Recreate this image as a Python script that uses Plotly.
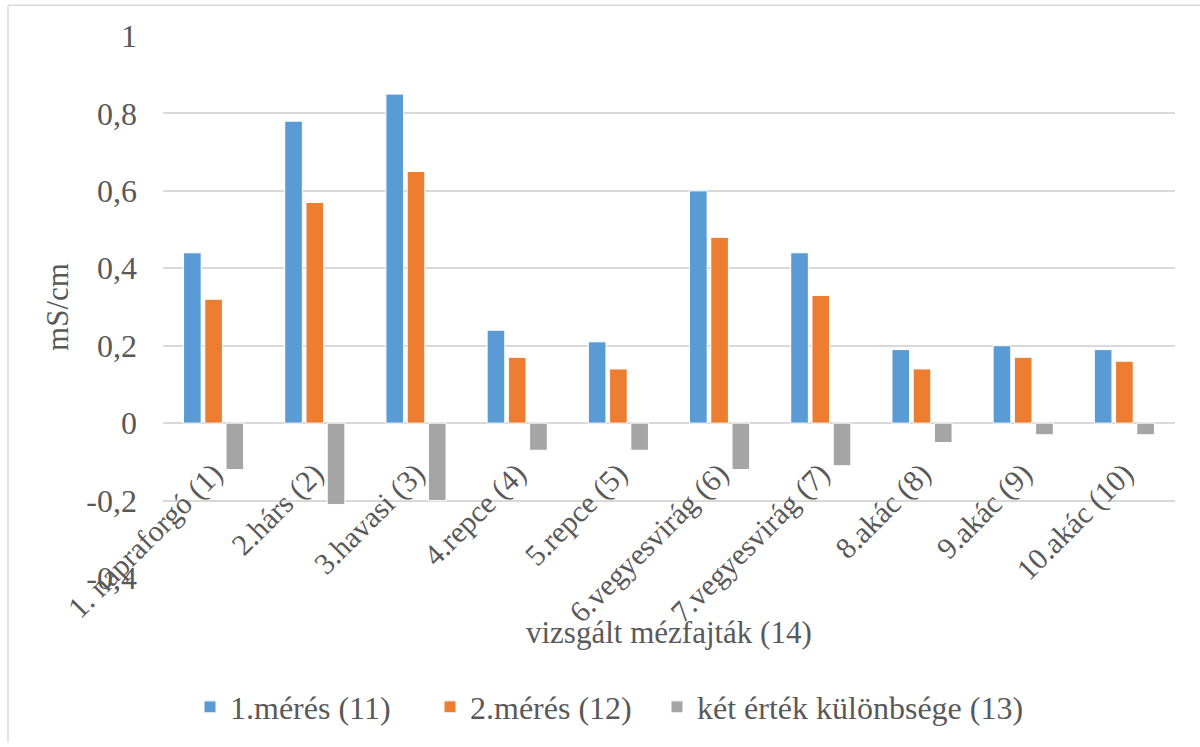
import plotly.graph_objects as go

categories = ["1. napraforgó (1)", "2.hárs (2)", "3.havasi (3)", "4.repce (4)", "5.repce (5)",
              "6.vegyesvirág (6)", "7.vegyesvirág (7)", "8.akác (8)", "9.akác (9)", "10.akác (10)"]
meres1 = [0.44, 0.78, 0.85, 0.24, 0.21, 0.60, 0.44, 0.19, 0.20, 0.19]
meres2 = [0.32, 0.57, 0.65, 0.17, 0.14, 0.48, 0.33, 0.14, 0.17, 0.16]
kulonbseg = [-0.12, -0.21, -0.20, -0.07, -0.07, -0.12, -0.11, -0.05, -0.03, -0.03]
series_names = ["1.mérés (11)", "2.mérés (12)", "két érték különbsége (13)"]
y_tickvals = [1, 0.8, 0.6, 0.4, 0.2, 0, -0.2, -0.4]
y_ticktext = ["1", "0,8", "0,6", "0,4", "0,2", "0", "-0,2", "-0,4"]

colors = ["#5B9BD5", "#ED7D31", "#A5A5A5"]
FONT = "Liberation Serif"
TXT = "#595959"
FS = 32

W, H = 1200, 747
L, R, T, B = 163, 25, 36, 165
pw, ph = W - L - R, H - T - B
ymin, ymax = -0.4, 1.0

fig = go.Figure()
legends = ["legend", "legend", "legend2"]
for name, vals, c, lg in zip(series_names, [meres1, meres2, kulonbseg], colors, legends):
    fig.add_trace(go.Bar(x=categories, y=vals, name=name, marker_color=c,
                         marker_line=dict(color="white", width=1), legend=lg))

def px2px(x):
    return (x - L) / pw

def py2py(y):
    return (H - B - y) / ph

zero_pos = (0 - ymin) / (ymax - ymin)

fig.update_layout(
    width=W, height=H,
    margin=dict(l=L, r=R, t=T, b=B),
    paper_bgcolor="white", plot_bgcolor="white",
    barmode="group", bargap=0.37, bargroupgap=0.17,
    font=dict(family=FONT, color=TXT, size=FS),
    showlegend=True,
    legend=dict(orientation="h", x=px2px(190), xanchor="left", y=py2py(712), yanchor="middle",
                font=dict(size=FS, color=TXT, family=FONT), itemwidth=30,
                entrywidth=195, entrywidthmode="pixels",
                traceorder="normal"),
    legend2=dict(orientation="h", x=px2px(657), xanchor="left", y=py2py(712), yanchor="middle",
                 font=dict(size=FS, color=TXT, family=FONT), itemwidth=30),
    xaxis=dict(anchor="free", position=zero_pos, tickangle=-45, showgrid=False,
               showline=False, ticks="", ticklabelstandoff=26,
               tickfont=dict(size=30, color=TXT, family=FONT)),
    yaxis=dict(range=[ymin, ymax], tickvals=y_tickvals, ticktext=y_ticktext,
               showgrid=True, gridcolor="#D9D9D9", gridwidth=1.5,
               zeroline=True, zerolinecolor="#D9D9D9", zerolinewidth=1.5,
               showline=False, ticks="", ticklabelstandoff=25,
               tickfont=dict(size=FS, color=TXT, family=FONT),
               title=dict(text="mS/cm", font=dict(size=31, color=TXT, family=FONT), standoff=8)),
    annotations=[dict(text="vizsgált mézfajták (14)", xref="paper", yref="paper",
                      x=0.5, y=py2py(637), xanchor="center", yanchor="middle", showarrow=False,
                      font=dict(size=31, color=TXT, family=FONT))],
    shapes=[
        dict(type="line", xref="paper", yref="paper", x0=px2px(8), x1=px2px(1200),
             y0=py2py(5), y1=py2py(5), line=dict(color="#D9D9D9", width=1.5)),
        dict(type="line", xref="paper", yref="paper", x0=px2px(8), x1=px2px(8),
             y0=py2py(5), y1=py2py(747), line=dict(color="#D9D9D9", width=1.5)),
    ],
)

fig.write_html("out.html", config={"displayModeBar": False},
               post_script="document.body.style.margin='0';")
